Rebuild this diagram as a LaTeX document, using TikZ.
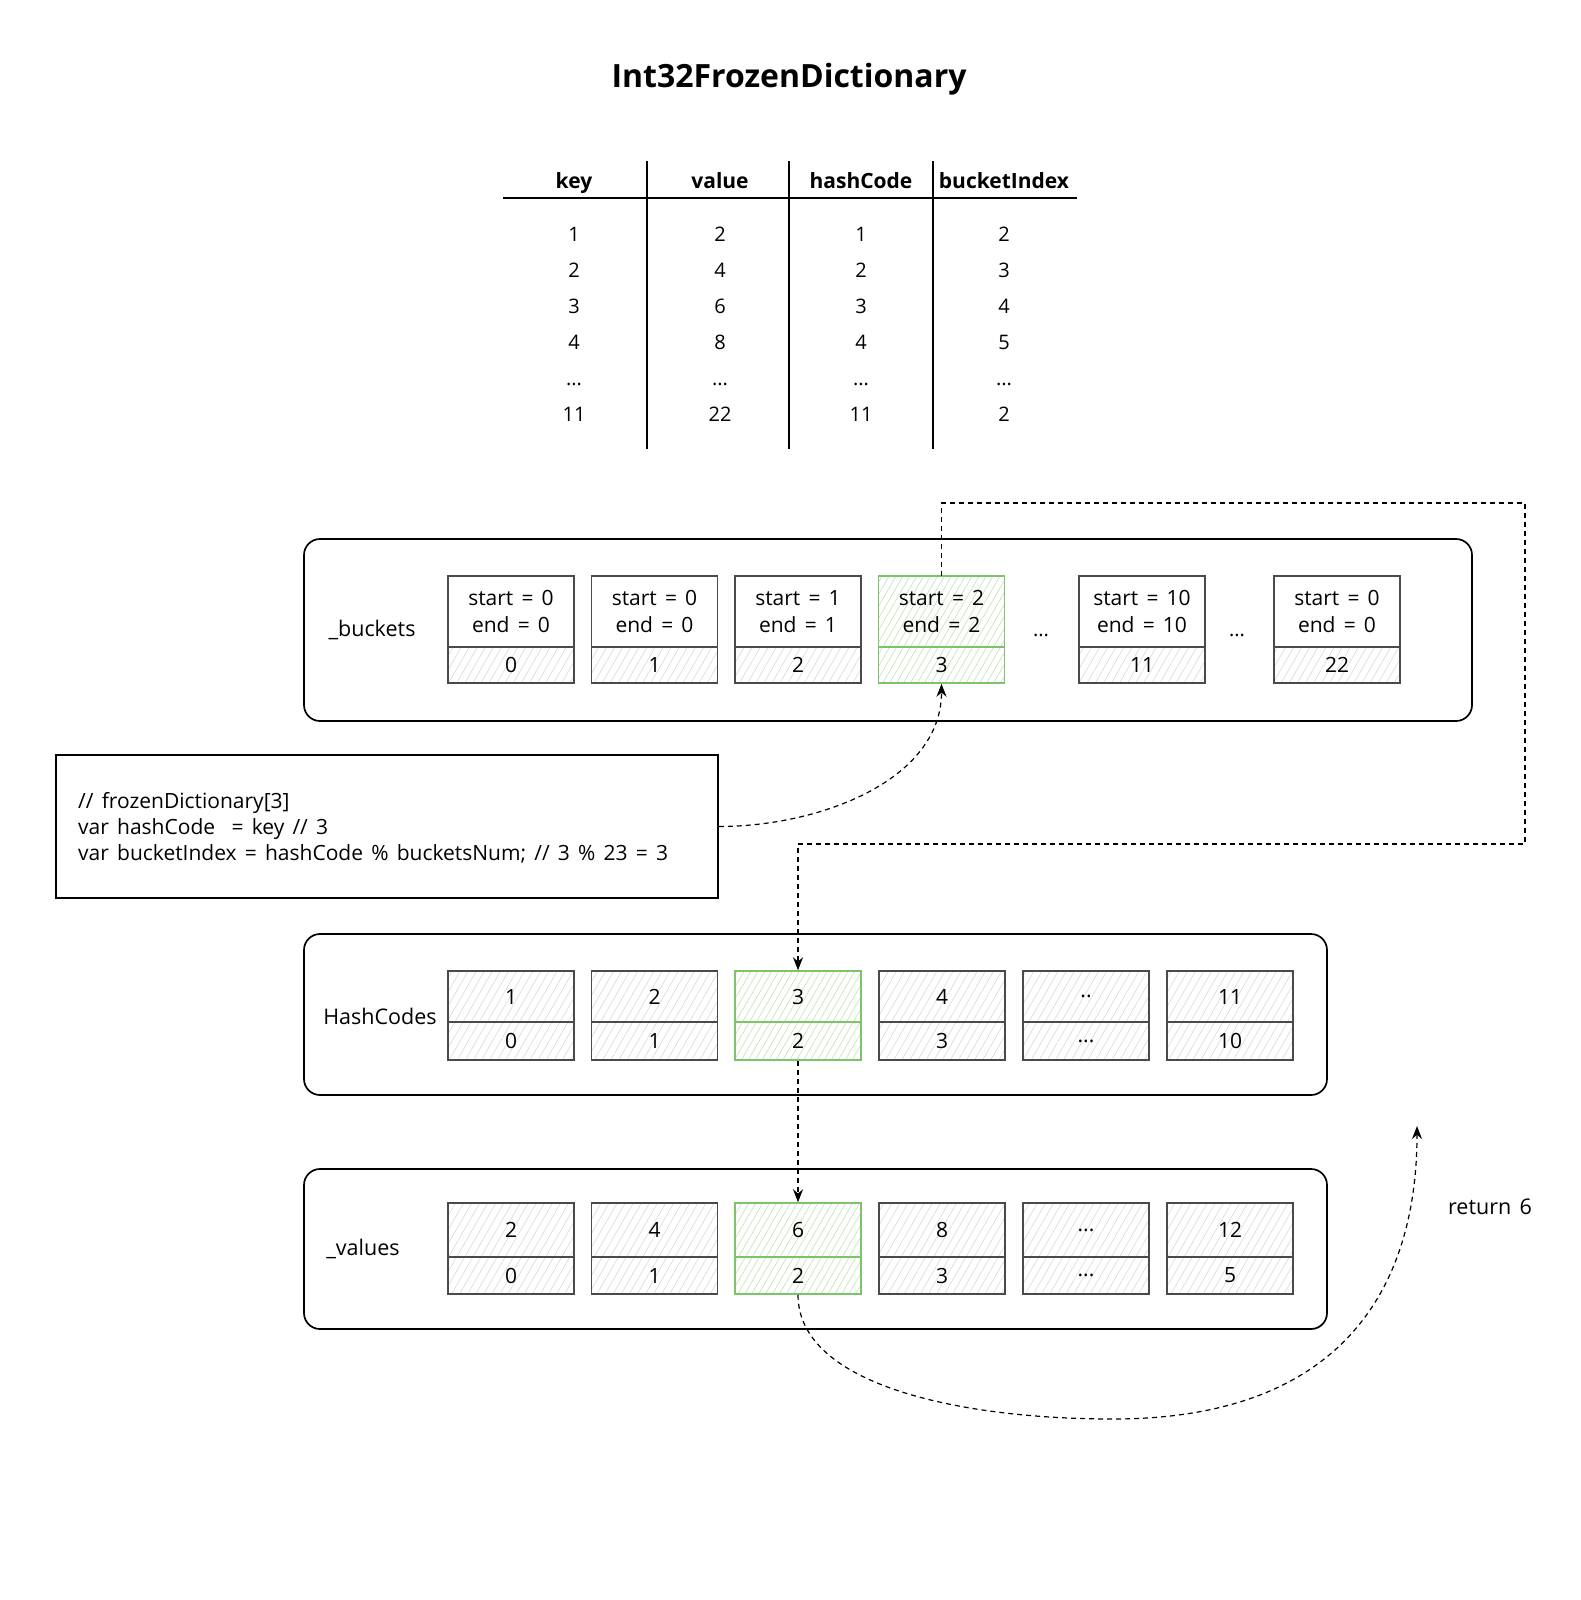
\documentclass[tikz,border=0pt]{standalone}
\usepackage{fontspec}
\setmainfont{Open Sans}[WordSpace=1.5]
\usetikzlibrary{patterns.meta,arrows.meta,calc}
\definecolor{cellgray}{HTML}{4A4A4A}
\definecolor{hatchgray}{HTML}{D4D4D4}
\definecolor{grn}{HTML}{7DC36B}
\definecolor{hatchgrn}{HTML}{BFE3B3}
\newcommand\mytdots{...}
\newcommand\mytwodots{..}
\tikzset{
  cellbox/.style={draw=cellgray, line width=1.3pt, minimum width=126pt, inner sep=0pt, font=\fontsize{21}{27}\selectfont, align=center},
  hatched/.style={pattern={Lines[angle=60,distance=7pt,line width=0.5pt]}, pattern color=hatchgray},
  greencell/.style={draw=grn, line width=1.5pt, pattern={Lines[angle=60,distance=6pt,line width=0.6pt]}, pattern color=hatchgrn},
  container/.style={draw=black, line width=1.7pt, rounded corners=16pt, inner sep=0pt},
  flow/.style={draw=black, line width=1.2pt, dash pattern=on 5pt off 4pt, -{Stealth[length=13pt,width=10pt]}},
  lbl/.style={font=\fontsize{21.5}{26}\selectfont, inner sep=0pt},
  tab/.style={font=\fontsize{20}{24}\selectfont, inner sep=0pt, anchor=base},
  tabhead/.style={font=\bfseries\fontsize{21}{24}\selectfont, inner sep=0pt, anchor=base},
  titlestyle/.style={font=\bfseries\fontsize{32}{36}\selectfont, inner sep=0pt},
  tabline/.style={draw=black, line width=1.4pt},
}
\begin{document}
\begin{tikzpicture}[x=1pt,y=-1pt]
\useasboundingbox (0,0) rectangle (1580,1600);
\fill[white] (0,0) rectangle (1580,1600);

% title
\node[titlestyle] (title) at (789,79) {Int32FrozenDictionary};

% table
\draw[tabline] (503,198) -- (1077,198);
\draw[tabline] (647,161) -- (647,449);
\draw[tabline] (789,161) -- (789,449);
\draw[tabline] (933,161) -- (933,449);
\node[tabhead] (hkey) at (574,188) {key};
\node[tabhead] (hval) at (720,188) {value};
\node[tabhead] (hhash) at (861,188) {hashCode};
\node[tabhead] (hbi) at (1004,188) {bucketIndex};
\foreach \r/\k/\v/\h/\b in {1/1/2/1/2, 2/2/4/2/3, 3/3/6/3/4, 4/4/8/4/5, 5/\mytdots/\mytdots/\mytdots/\mytdots, 6/11/22/11/2}{
  \node[tab] (tk\r) at (574,241+36*\r-36) {\k};
  \node[tab] (tv\r) at (720,241+36*\r-36) {\v};
  \node[tab] (th\r) at (861,241+36*\r-36) {\h};
  \node[tab] (tb\r) at (1004,241+36*\r-36) {\b};
}

% containers
\node[container, minimum width=1168pt, minimum height=182pt] (bucketsbox) at (888,630) {};
\node[container, minimum width=1023pt, minimum height=161pt] (hashbox) at (815.5,1014.5) {};
\node[container, minimum width=1023pt, minimum height=160pt] (valbox) at (815.5,1249) {};

\node[lbl] (lbuckets) at (372,630) {\_buckets};
\node[lbl] (lhash) at (380,1016) {HashCodes};
\node[lbl] (lval) at (363,1249) {\_values};

% bucket cells
\foreach \i/\x/\s/\e/\n in {0/511/0/0/0, 1/654.5/0/0/1, 2/798/1/1/2, 4/1142/10/10/11, 5/1337/0/0/22}{
  \node[cellbox, fill=white, minimum height=71pt] (bt\i) at (\x,611.5) {start = \s\\end = \e};
  \node[cellbox, hatched, minimum height=36pt] (bb\i) at (\x,665) {\n};
}
\node[cellbox, greencell, minimum height=71pt] (bt3) at (941.5,611.5) {start = 2\\end = 2};
\node[cellbox, greencell, minimum height=36pt] (bb3) at (941.5,665) {3};
\node[tab] (bdots1) at (1041,636) {\mytdots};
\node[tab] (bdots2) at (1237,636) {\mytdots};

% hash code cells
\foreach \i/\x/\u/\l in {0/511/1/0, 1/654.5/2/1, 3/942/4/3, 4/1086/\mytwodots/\mytdots, 5/1230/11/10}{
  \node[cellbox, hatched, minimum height=51pt] (ht\i) at (\x,996.5) {\u};
  \node[cellbox, hatched, minimum height=38pt] (hb\i) at (\x,1041) {\l};
}
\node[cellbox, greencell, minimum height=51pt] (ht2) at (798,996.5) {3};
\node[cellbox, greencell, minimum height=38pt] (hb2) at (798,1041) {2};

% value cells
\foreach \i/\x/\u/\l in {0/511/2/0, 1/654.5/4/1, 3/942/8/3, 4/1086/\mytdots/\mytdots, 5/1230/12/5}{
  \node[cellbox, hatched, minimum height=54pt] (vt\i) at (\x,1230) {\u};
  \node[cellbox, hatched, minimum height=37pt] (vb\i) at (\x,1275.5) {\l};
}
\node[cellbox, greencell, minimum height=54pt] (vt2) at (798,1230) {6};
\node[cellbox, greencell, minimum height=37pt] (vb2) at (798,1275.5) {2};

% code box
\node[draw=black, line width=1.5pt, minimum width=662pt, minimum height=143pt, inner sep=0pt] (code) at (387,826.5) {};
\node[lbl, anchor=west, align=left, font=\fontsize{21}{26}\selectfont] (codetext) at (78,828) {// frozenDictionary[3]\\var hashCode \ = key // 3\\var bucketIndex = hashCode \% bucketsNum; // 3 \% 23 = 3};

% return label
\node[lbl] (ret) at (1490,1207) {return 6};
\coordinate (retend) at (1417,1126);

% connectors
\draw[flow] (code.east) .. controls (820,826.5) and (941.5,780) .. (bb3.south);
\draw[flow] (bt3.north) -- (941.5,503) -- (1525,503) -- (1525,844) -- (798,844) -- (ht2.north);
\draw[flow] (hb2.south) -- (vt2.north);
\draw[flow] (vb2.south) .. controls (798,1385) and (960,1419) .. (1113,1419) .. controls (1340,1419) and (1417,1290) .. (retend);
\end{tikzpicture}
\end{document}
